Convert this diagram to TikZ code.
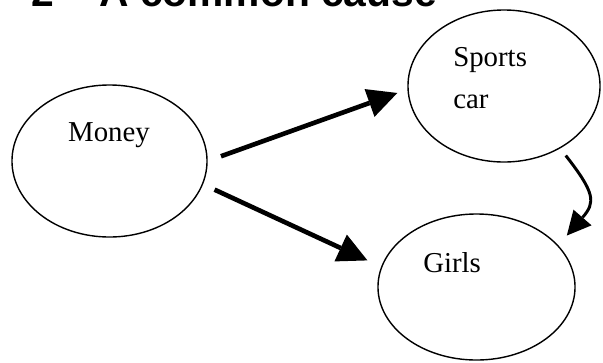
\documentclass[tikz,border=0pt]{standalone}
\usepackage{fontspec}
\usepackage{xcolor}
\usetikzlibrary{shapes.geometric,arrows.meta,positioning}
\setmainfont{Liberation Serif}
\newfontfamily\headfont{Liberation Sans}

\begin{document}
\begin{tikzpicture}[x=0.025cm, y=-0.025cm,
    blob/.style={draw, ellipse, line width=1pt, inner sep=0pt},
    word/.style={inner sep=0pt, font=\fontsize{20.5pt}{29.2pt}\selectfont},
    head/.style={inner sep=0pt, font=\headfont\bfseries\fontsize{29pt}{34pt}\selectfont},
    big/.style={line width=3.3pt, -{Triangle[length=21pt, width=21pt, line width=0pt]}},
    small/.style={line width=2.1pt, -{Triangle[length=17pt, width=17pt, line width=0pt]}}]
  \useasboundingbox (0, 0) rectangle (603, 362);
  \node [head, anchor=base west] (t) at (31, 6) {2 – A common cause};
  \node [blob, minimum width=4.875cm, minimum height=3.8cm] (m) at (109.5, 161) {};
  \node [blob, minimum width=4.8cm, minimum height=3.8cm] (s) at (504, 86) {};
  \node [blob, minimum width=4.925cm, minimum height=3.65cm] (g) at (476.5, 287) {};
  \node [word, anchor=base] (mt) at (109, 141.5) {Money};
  \node [word, anchor=base west, align=left] (st) at (453, 108) {Sports\\car};
  \node [word, anchor=base west] (gt) at (423, 272.5) {Girls};
  \draw [big, shorten <=10pt, shorten >=7.6pt] (m.0) -- (s.182);
  \draw [big, shorten <=9pt, shorten >=10.7pt] (m.-14) -- (g.168);
  \draw [small, shorten <=6.4pt, shorten >=9.2pt] (s.-48) to [out=-52, in=49, looseness=1.5] (g.27);
\end{tikzpicture}
\end{document}
